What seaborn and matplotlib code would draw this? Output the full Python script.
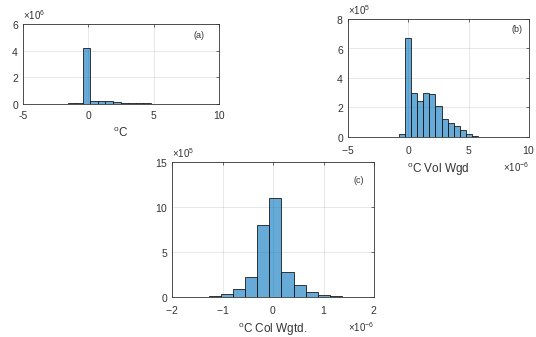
import numpy as np
import pandas as pd
import matplotlib
matplotlib.use("Agg")
import matplotlib.pyplot as plt
import seaborn as sns
from matplotlib.ticker import ScalarFormatter

# ---- data ----
# (a) degC, bin edges and counts
a_edges = [-1.59 + 0.58 * k for k in range(17)]
a_counts = [0.06e6, 0.08e6, 4.2e6, 0.2e6, 0.25e6, 0.22e6, 0.13e6, 0.10e6,
            0.07e6, 0.05e6, 0.04e6, 0.03e6, 0.02e6, 0.02e6, 0.02e6, 0.02e6]

# (b) degC Vol Wgd (x in units of 1e-6)
b_edges = [(-0.75 + 0.5 * k) * 1e-6 for k in range(15)]
b_counts = [0.2e5, 6.7e5, 3.0e5, 2.45e5, 2.95e5, 2.93e5, 2.12e5, 1.22e5,
            0.92e5, 0.75e5, 0.45e5, 0.2e5, 0.09e5, 0.03e5]

# (c) degC Col Wgtd. (x in units of 1e-6)
c_edges = [(-1.512 + 0.24 * k) * 1e-6 for k in range(15)]
c_counts = [0.05e5, 0.1e5, 0.3e5, 0.85e5, 2.25e5, 8.0e5, 11.0e5, 2.8e5,
            1.35e5, 0.55e5, 0.25e5, 0.1e5, 0.05e5, 0.03e5]

panels = [
    dict(edges=a_edges, counts=a_counts, xlim=(-5, 10), ylim=(0, 6e6),
         xticks=[-5, 0, 5, 10], yticks=[0, 2e6, 4e6, 6e6], yexp=6, xexp=None,
         xlabel="$^{\\mathrm{o}}$C", tag="(a)", tagpos=(0.90, 0.86),
         rect=(23, 24, 219, 104)),
    dict(edges=b_edges, counts=b_counts, xlim=(-5e-6, 10e-6), ylim=(0, 8e5),
         xticks=[-5e-6, 0, 5e-6, 10e-6], yticks=[0, 2e5, 4e5, 6e5, 8e5], yexp=5, xexp=-6,
         xlabel="$^{\\mathrm{o}}$C Vol Wgd", tag="(b)", tagpos=(0.935, 0.91),
         rect=(348, 19, 529, 137)),
    dict(edges=c_edges, counts=c_counts, xlim=(-2e-6, 2e-6), ylim=(0, 15e5),
         xticks=[-2e-6, -1e-6, 0, 1e-6, 2e-6], yticks=[0, 5e5, 10e5, 15e5], yexp=5, xexp=-6,
         xlabel="$^{\\mathrm{o}}$C Col Wgtd.", tag="(c)", tagpos=(0.925, 0.86),
         rect=(172, 162, 374, 297)),
]

sns.set_style("white")
plt.rcParams["font.family"] = ["Liberation Sans", "DejaVu Sans"]
plt.rcParams["mathtext.fontset"] = "custom"
plt.rcParams["mathtext.rm"] = "Liberation Sans"
plt.rcParams["mathtext.it"] = "Liberation Sans"
plt.rcParams["axes.unicode_minus"] = False

W, H = 536, 337
fig = plt.figure(figsize=(W / 100, H / 100), dpi=100)
fig.patch.set_facecolor("white")

face = (0.0, 0.447, 0.741)
gray = (0.2, 0.2, 0.2)

for p in panels:
    x0, y0, x1, y1 = p["rect"]
    ax = fig.add_axes([x0 / W, 1 - y1 / H, (x1 - x0) / W, (y1 - y0) / H])
    edges = list(p["edges"])
    centers = [(edges[i] + edges[i + 1]) / 2 for i in range(len(edges) - 1)]
    df = pd.DataFrame({"x": centers, "w": p["counts"]})
    sns.histplot(data=df, x="x", weights="w", bins=edges, ax=ax,
                 color=face, alpha=0.6, edgecolor=(0.1, 0.1, 0.1), linewidth=0.6)
    ax.set_xlim(*p["xlim"])
    ax.set_ylim(*p["ylim"])
    ax.set_xticks(p["xticks"])
    ax.set_yticks(p["yticks"])
    yf = ScalarFormatter(useMathText=True)
    yf.set_powerlimits((p["yexp"], p["yexp"]))
    ax.yaxis.set_major_formatter(yf)
    if p["xexp"] is not None:
        xf = ScalarFormatter(useMathText=True)
        xf.set_powerlimits((p["xexp"], p["xexp"]))
        ax.xaxis.set_major_formatter(xf)
    ax.grid(True, color=(0.15, 0.15, 0.15), alpha=0.12, linewidth=0.6)
    ax.set_axisbelow(True)
    for s in ax.spines.values():
        s.set_color(gray)
        s.set_linewidth(0.6)
    ax.tick_params(direction="in", length=2, width=0.5, colors=gray,
                   labelsize=7.5, top=True, right=True,
                   labeltop=False, labelright=False)
    ax.tick_params(axis="x", pad=5)
    ax.tick_params(axis="y", pad=3)
    ax.yaxis.get_offset_text().set_fontsize(7)
    ax.yaxis.get_offset_text().set_color(gray)
    ax.xaxis.get_offset_text().set_fontsize(7)
    ax.xaxis.get_offset_text().set_color(gray)
    ax.set_ylabel("")
    ax.set_xlabel(p["xlabel"], fontsize=8.5, color=gray, labelpad=4)
    ax.text(p["tagpos"][0], p["tagpos"][1], p["tag"], transform=ax.transAxes,
            ha="center", va="center", fontsize=6.5, color=gray)

fig.savefig("out.png", dpi=100, facecolor="white")
